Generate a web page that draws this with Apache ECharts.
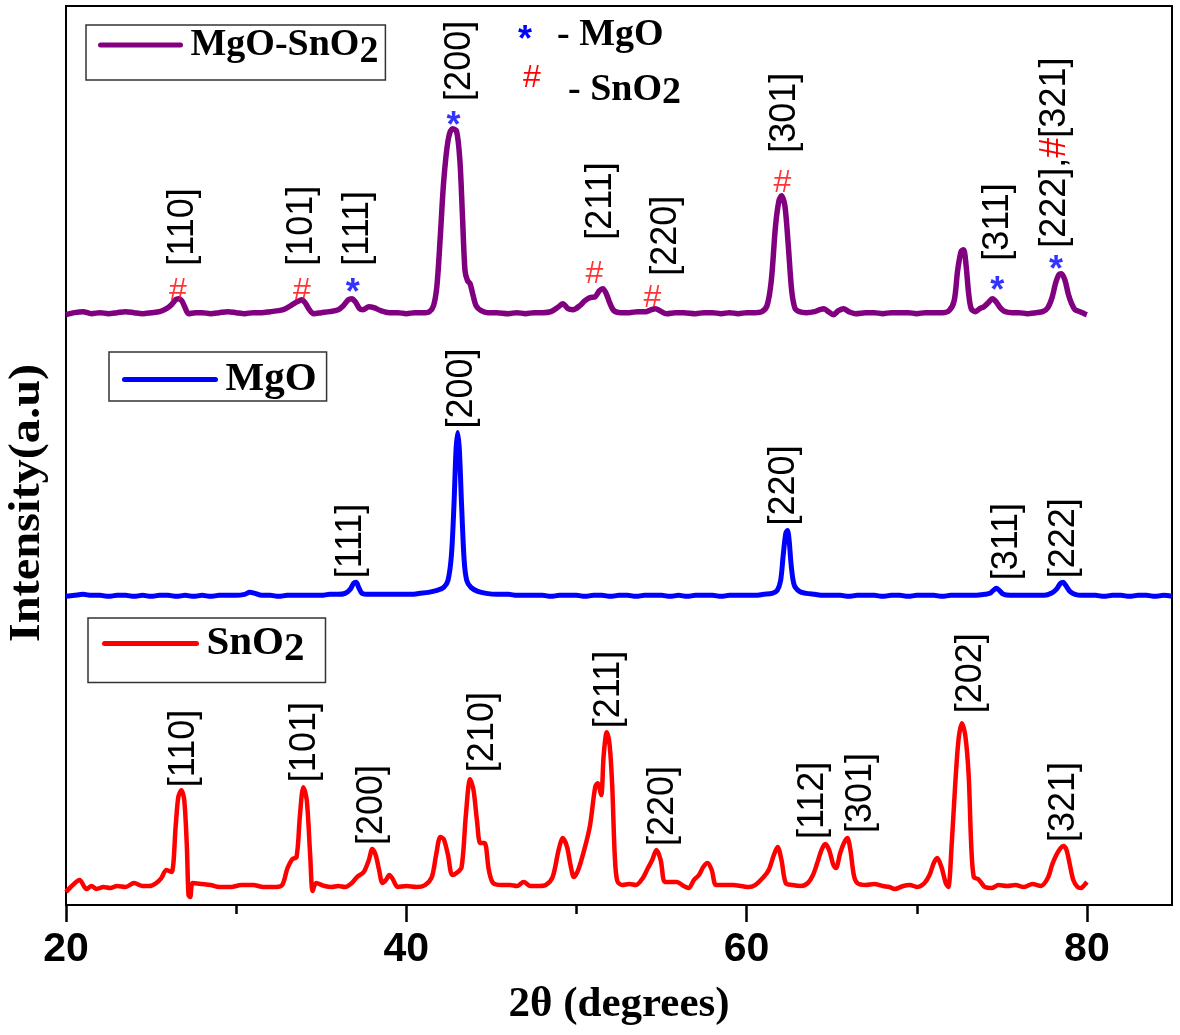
<!DOCTYPE html>
<html><head><meta charset="utf-8">
<script src="https://cdn.jsdelivr.net/npm/echarts@6/dist/echarts.min.js"></script>
<style>html,body{margin:0;padding:0;background:#fff}#c{width:1180px;height:1035px}</style>
</head><body><div id="c"></div>
<script>
// ---------- data (2θ in degrees, intensity in arbitrary offset units) ----------
const xTickValues = [20, 40, 60, 80];
const xMinorTickValues = [30, 50, 70];

const mixData = [[20,591],[20.5,593],[21,594],[21.5,592],[22,593],[22.5,592],[23,593],[23.5,594],[24,593],[24.5,592],[25,593],[25.5,594],[25.9,597],[26.2,601],[26.45,606],[26.6,607],[26.8,605],[27.0,598],[27.2,592],[27.6,593],[28,593],[28.5,592],[29,593],[29.5,594],[30,593],[30.5,592],[31,593],[31.5,593],[32,594],[32.5,595],[32.9,597],[33.3,601],[33.6,604],[33.85,606],[34.05,603],[34.3,596],[34.55,592],[35,593],[35.5,594],[36.0,596],[36.3,600],[36.6,606],[36.8,607],[37.0,604],[37.25,597],[37.45,596],[37.8,599],[38.1,598],[38.5,595],[39,593],[39.5,593],[40,592],[40.5,593],[41,593],[41.35,594],[41.6,600],[41.8,620],[42.0,670],[42.2,725],[42.45,765],[42.7,777],[42.95,775],[43.15,745],[43.3,690],[43.45,635],[43.6,625],[43.75,622],[43.9,612],[44.1,600],[44.4,595],[44.8,593],[45.3,593],[46,592],[46.5,593],[47,592],[47.5,593],[48,593],[48.5,594],[48.95,599],[49.2,602],[49.5,597],[49.8,596],[50.2,600],[50.5,605],[50.8,608],[51.1,609],[51.35,615],[51.55,617],[51.75,612],[51.95,603],[52.2,595],[52.6,593],[53.1,593],[53.6,594],[54.1,594],[54.4,596],[54.65,597],[54.9,595],[55.3,592],[55.8,593],[56.3,593],[57,592],[57.5,593],[58,593],[58.5,592],[59,593],[59.5,592],[60,593],[60.5,593],[60.9,594],[61.2,600],[61.45,625],[61.7,680],[61.9,705],[62.05,710],[62.25,700],[62.45,660],[62.65,615],[62.85,597],[63.1,594],[63.5,593],[64.0,594],[64.3,596],[64.55,597],[64.8,594],[65.1,591],[65.4,595],[65.7,597],[66.0,594],[66.4,592],[67,593],[67.5,593],[68,592],[68.5,593],[69,593],[69.5,593],[70,592],[70.5,593],[71,593],[71.5,593],[71.9,595],[72.2,605],[72.4,635],[72.6,654],[72.75,656],[72.9,640],[73.05,612],[73.2,597],[73.45,594],[73.7,597],[73.95,599],[74.2,603],[74.45,607],[74.7,603],[74.95,597],[75.2,594],[75.6,593],[76,593],[76.5,592],[77,593],[77.4,594],[77.7,598],[77.95,608],[78.15,622],[78.35,631],[78.5,632],[78.7,626],[78.9,612],[79.1,602],[79.3,596],[79.6,594],[79.85,592],[80,591]];

const mgoData = [[20,309],[20.5,310],[21,311],[21.5,310],[22,310],[22.5,309],[23,310],[23.5,310],[24,309],[24.5,310],[25,309],[25.5,310],[26,310],[26.5,309],[27,310],[27.5,309],[28,310],[28.5,309],[29,310],[29.5,310],[30,310],[30.5,311],[30.8,313],[31.1,312],[31.5,310],[32,310],[32.5,309],[33,310],[33.5,310],[34,310],[34.5,310],[35,310],[35.5,311],[36,311],[36.4,312],[36.7,316],[36.9,322],[37.05,323],[37.2,318],[37.4,312],[37.8,311],[38.3,311],[38.8,311],[39.3,311],[39.8,311],[40.3,311],[40.8,312],[41.3,313],[41.8,315],[42.2,318],[42.45,325],[42.65,350],[42.8,400],[42.92,455],[43.02,473],[43.12,455],[43.25,400],[43.4,345],[43.55,325],[43.8,318],[44.2,314],[44.7,312],[45.3,311],[46,311],[46.5,310],[47,310],[47.5,310],[48,310],[48.5,309],[49,310],[49.5,310],[50,310],[50.5,309],[51,310],[51.5,310],[52,309],[52.5,310],[53,310],[53.5,309],[54,310],[54.5,310],[55,310],[55.5,309],[56,310],[56.5,309],[57,310],[57.5,310],[58,310],[58.5,309],[59,310],[59.5,310],[60,310],[60.5,310],[61,311],[61.5,312],[61.8,315],[62.0,325],[62.15,350],[62.3,372],[62.4,375],[62.5,365],[62.62,340],[62.8,320],[63.1,314],[63.5,312],[64,311],[64.5,310],[65,310],[65.5,310],[66,309],[66.5,310],[67,310],[67.5,310],[68,309],[68.5,310],[69,310],[69.5,309],[70,310],[70.5,310],[71,310],[71.5,309],[72,310],[72.5,310],[73,310],[73.5,310],[74,311],[74.3,312],[74.5,315],[74.67,317],[74.85,315],[75.1,311],[75.5,310],[76,310],[76.5,310],[77,310],[77.5,310],[77.9,312],[78.2,316],[78.45,322],[78.6,323],[78.75,320],[79.0,314],[79.3,311],[79.7,310],[80,310],[80.5,310],[81,309],[81.5,310],[82,310],[82.5,309],[83,310],[83.5,310],[84,309],[84.5,310],[85,309]];

const sno2Data = [[20.0,13],[20.4,20],[20.8,25],[21.2,16],[21.5,19],[21.8,16],[22.2,18],[22.6,17],[23.0,19],[23.5,18],[24.0,22],[24.5,19],[24.9,19],[25.3,22],[25.6,27],[25.9,35],[26.2,33],[26.45,80],[26.6,108],[26.78,115],[26.95,105],[27.1,60],[27.2,10],[27.3,8],[27.45,22],[28.0,21],[28.5,20],[29.0,18],[29.7,18],[30.3,20],[31.0,20],[31.6,18],[32.2,18],[32.7,20],[33.0,36],[33.3,46],[33.55,48],[33.75,90],[33.95,118],[34.15,105],[34.35,50],[34.5,14],[34.7,22],[35.2,19],[35.6,18],[36.0,19],[36.4,18],[36.8,22],[37.1,28],[37.5,33],[37.8,45],[38.0,56],[38.2,50],[38.4,35],[38.6,22],[38.8,25],[39.0,30],[39.2,26],[39.5,18],[40.0,19],[40.6,18],[41.1,20],[41.5,28],[41.75,50],[42.0,68],[42.2,66],[42.45,50],[42.7,30],[42.95,32],[43.25,38],[43.5,90],[43.75,126],[43.95,115],[44.15,85],[44.35,62],[44.6,62],[44.85,35],[45.1,22],[45.6,20],[46.1,20],[46.5,19],[46.9,23],[47.3,19],[47.8,19],[48.2,20],[48.6,28],[48.95,55],[49.2,67],[49.45,58],[49.65,40],[49.85,28],[50.1,35],[50.5,58],[50.8,80],[51.1,118],[51.25,122],[51.45,110],[51.6,150],[51.78,173],[51.95,160],[52.1,120],[52.25,50],[52.4,24],[52.7,20],[53.1,21],[53.5,20],[53.9,27],[54.2,37],[54.45,45],[54.7,55],[54.95,45],[55.2,23],[55.6,23],[55.9,23],[56.3,19],[56.6,17],[56.9,25],[57.2,30],[57.45,38],[57.7,42],[57.95,35],[58.2,20],[58.6,20],[59.2,20],[59.7,19],[60.1,18],[60.5,20],[61.0,28],[61.3,35],[61.6,50],[61.82,58],[62.05,45],[62.3,22],[62.7,20],[63.2,19],[63.6,22],[63.9,30],[64.15,42],[64.4,55],[64.62,61],[64.85,55],[65.1,40],[65.25,37],[65.5,52],[65.72,62],[65.92,67],[66.1,55],[66.3,30],[66.5,22],[67.0,20],[67.5,21],[68.0,19],[68.4,18],[68.7,16],[69.2,19],[69.6,20],[70.0,18],[70.45,22],[70.75,30],[71.0,42],[71.2,47],[71.45,38],[71.7,22],[71.85,18],[72.05,60],[72.25,118],[72.45,165],[72.65,182],[72.85,170],[73.05,130],[73.2,60],[73.35,28],[73.6,26],[73.8,22],[74.0,18],[74.4,17],[74.8,20],[75.3,19],[75.8,20],[76.3,18],[76.8,21],[77.3,19],[77.7,27],[77.95,40],[78.2,50],[78.45,57],[78.62,59],[78.8,55],[79.0,40],[79.2,25],[79.45,18],[79.65,17],[79.85,20],[80.0,23]];

// peak index labels: [2θ, label foot height, text]
const mixPeakLabels = [[26.87,640,'[110]'],[33.86,640,'[101]'],[37.15,640,'[111]'],[43.14,805,'[200]'],[51.47,666,'[211]'],[55.29,630,'[220]'],[62.28,753,'[301]'],[74.79,645,'[311]'],[78.13,658,'[222],{r|#}[321]']];
const mgoPeakLabels = [[36.73,327,'[111]'],[43.25,477,'[200]'],[62.22,380,'[220]'],[75.31,325,'[311]'],[78.66,327,'[222]']];
const sno2PeakLabels = [[26.93,118,'[110]'],[34.03,123,'[101]'],[38.0,60,'[200]'],[44.49,133,'[210]'],[51.9,177,'[211]'],[55.09,59,'[220]'],[63.9,66,'[112]'],[66.72,72,'[301]'],[73.18,192,'[202]'],[78.66,63,'[321]']];
// phase markers on the composite pattern: [2θ, height, symbol]
const mixPhaseMarks = [[26.58,615,'#'],[33.86,615,'#'],[36.85,612,'*'],[42.78,779,'*'],[51.06,632,'#'],[54.47,608,'#'],[62.1,723,'#'],[74.73,614,'*'],[78.19,635,'*']];

const seriesNames = ['MgO-SnO2', 'MgO', 'SnO2'];
const seriesColors = ['#800080', '#0000ff', '#ff0000'];

// ---------- chart ----------
const SERIF = '"Liberation Serif", "Times New Roman", serif';
const SANS = '"Liberation Sans", Arial, sans-serif';
const chart = echarts.init(document.getElementById('c'), null, {renderer: 'canvas'});

function peakLabelSeries(data) {
  return {
    type: 'scatter', data: data, symbolSize: 0, silent: true, z: 5,
    itemStyle: {color: 'transparent'},
    label: {
      show: true, position: 'inside', rotate: 90, align: 'left', verticalAlign: 'middle',
      formatter: p => p.value[2],
      fontFamily: SANS, fontSize: 36, color: '#000', textBorderWidth: 0, opacity: 1,
      rich: {r: {fontFamily: SANS, fontSize: 36, color: '#ff0000', textBorderWidth: 0}}
    }
  };
}

const legendRich = (fs, lh, sh) => ({
  a: {fontFamily: SERIF, fontWeight: 'bold', fontSize: fs, lineHeight: lh, color: '#000'},
  s: {fontFamily: SERIF, fontWeight: 'bold', fontSize: fs, lineHeight: sh, verticalAlign: 'bottom', color: '#000'}
});
const legendFmt = n => n.endsWith('2') ? '{a|' + n.slice(0, -1) + '}{s|2}' : '{a|' + n + '}';

function makeLegend(name, left, top, padding, itemWidth, fs, lh, sh) {
  return {
    show: true, data: [name], left: left, top: top, padding: padding,
    itemWidth: itemWidth, itemHeight: 1, itemGap: 0, selectedMode: false,
    borderColor: '#333', borderWidth: 1.5, backgroundColor: '#fff',
    itemStyle: {opacity: 0, borderWidth: 0},
    lineStyle: {width: 5, cap: 'round'},
    formatter: legendFmt,
    textStyle: {padding: [0, 0, 0, 5], rich: legendRich(fs, lh, sh)}
  };
}

const option = {
  animation: false,
  backgroundColor: '#fff',
  grid: {left: 66, right: 8, top: 6, bottom: 130, show: true, borderColor: '#000', borderWidth: 2, backgroundColor: 'transparent'},
  legend: [
    makeLegend(seriesNames[0], 86, 25, [1, 7, 9, 12], 80, 38, 52, 20),
    makeLegend(seriesNames[1], 109, 352, [7, 10, 1, 13], 91, 41, 44, 44),
    makeLegend(seriesNames[2], 88, 618, [5, 21, 13, 14], 92, 41, 52, 20)
  ],
  xAxis: [{
    type: 'value', min: 20, max: 85,
    axisLine: {show: true, lineStyle: {color: '#000', width: 2}},
    axisTick: {show: true, customValues: xTickValues, length: 17, lineStyle: {color: '#000', width: 2.5}},
    axisLabel: {customValues: xTickValues, margin: 24, fontFamily: SANS, fontWeight: 'bold', fontSize: 41, color: '#000'},
    splitLine: {show: false},
    name: '2θ (degrees)', nameLocation: 'middle', nameGap: 100,
    nameTextStyle: {fontFamily: SERIF, fontWeight: 'bold', fontSize: 43, color: '#000', verticalAlign: 'middle'}
  }, {
    type: 'value', min: 20, max: 85, position: 'bottom',
    axisLine: {show: false},
    axisTick: {show: true, customValues: xMinorTickValues, length: 9, lineStyle: {color: '#000', width: 2.5}},
    axisLabel: {show: false}, splitLine: {show: false}
  }],
  yAxis: {
    type: 'value', min: 0, max: 900,
    axisLine: {show: true, lineStyle: {color: '#000', width: 2}},
    axisTick: {show: false}, axisLabel: {show: false}, splitLine: {show: false}
  },
  graphic: [
    {type: 'text', x: 28, y: 503, rotation: Math.PI / 2, scaleX: 1.1,
     style: {text: 'Intensity(a.u)', font: 'bold 44px ' + SERIF, fill: '#000', align: 'center', verticalAlign: 'middle'}},
    {type: 'text', x: 525, y: 41, style: {text: '*', font: 'bold 36px ' + SANS, fill: '#0000ff', align: 'center', verticalAlign: 'middle'}},
    {type: 'text', x: 557, y: 35, style: {text: '- MgO', font: 'bold 38px ' + SERIF, fill: '#000', align: 'left', verticalAlign: 'middle'}},
    {type: 'text', x: 532, y: 78, style: {text: '#', font: '32px ' + SANS, fill: '#ff0000', align: 'center', verticalAlign: 'middle'}},
    {type: 'text', x: 568, y: 90, style: {text: '{a|- SnO}{s|2}', align: 'left', verticalAlign: 'middle',
      rich: {a: {font: 'bold 38px ' + SERIF, fill: '#000', lineHeight: 44},
             s: {font: 'bold 38px ' + SERIF, fill: '#000', lineHeight: 12, verticalAlign: 'bottom'}}}}
  ],
  series: [
    {name: seriesNames[0], type: 'line', data: mixData, symbol: 'none', smooth: 0.3, color: seriesColors[0],
     lineStyle: {width: 5.5, color: seriesColors[0], join: 'round'}, z: 3},
    {name: seriesNames[1], type: 'line', data: mgoData, symbol: 'none', smooth: 0.3, color: seriesColors[1],
     lineStyle: {width: 5, color: seriesColors[1], join: 'round'}, z: 3},
    {name: seriesNames[2], type: 'line', data: sno2Data, symbol: 'none', smooth: 0.3, color: seriesColors[2],
     lineStyle: {width: 4.5, color: seriesColors[2], join: 'round'}, z: 3},
    peakLabelSeries(mixPeakLabels),
    peakLabelSeries(mgoPeakLabels),
    peakLabelSeries(sno2PeakLabels),
    {type: 'scatter', data: mixPhaseMarks, symbolSize: 0, silent: true, z: 5,
     itemStyle: {color: 'transparent'},
     label: {show: true, position: 'inside', align: 'center', verticalAlign: 'middle',
       formatter: p => p.value[2] === '#' ? '{h|#}' : '{s|*}',
       rich: {h: {fontFamily: SANS, fontSize: 32, color: '#ff0000'},
              s: {fontFamily: SANS, fontWeight: 'bold', fontSize: 36, color: '#0000ff'}}}}
  ]
};
chart.setOption(option);
</script></body></html>
